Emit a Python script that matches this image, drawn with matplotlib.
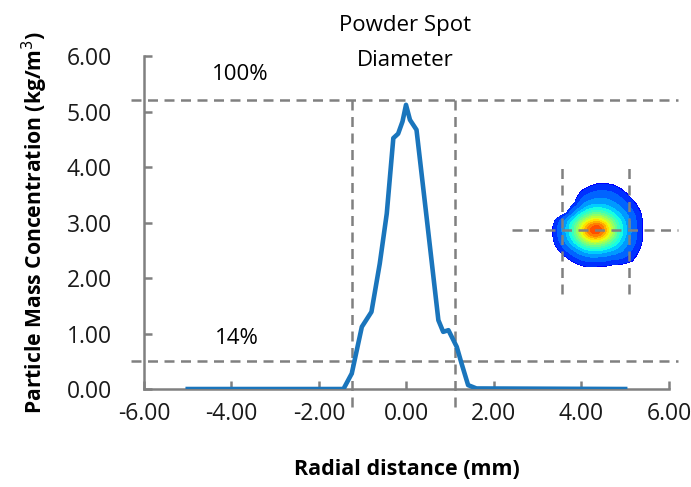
import numpy as np
import matplotlib
matplotlib.use("Agg")
import matplotlib.pyplot as plt

plt.rcParams['font.family'] = ['Open Sans', 'DejaVu Sans']

# concentration profile across the spot
radial_mm = [-5.0, -1.44, -1.25, -1.02, -0.80, -0.61, -0.45, -0.30, -0.19, -0.09,
             -0.01, 0.08, 0.23, 0.46, 0.73, 0.84, 0.96, 1.15, 1.26, 1.41, 1.60, 5.0]
conc = [0.0, 0.0, 0.28, 1.12, 1.39, 2.26, 3.16, 4.52, 4.60, 4.82,
        5.12, 4.85, 4.67, 3.10, 1.24, 1.03, 1.06, 0.76, 0.46, 0.07, 0.01, 0.0]

level_100 = 5.2
level_14 = 0.5
spot_edges = [-1.25, 1.12]

xticks = [-6, -4, -2, 0, 2, 4, 6]
yticks = [0, 1, 2, 3, 4, 5, 6]

# blob outline for the spot picture: relative radius at angles (deg)
blob_angles = [0, 20, 45, 70, 90, 115, 135, 155, 170, 180, 200, 225, 250, 270, 290, 315, 340, 360]
blob_radius = [0.97, 1.0, 0.98, 1.02, 1.0, 0.92, 0.78, 0.80, 1.0, 1.04, 1.06, 0.97, 0.92, 0.86, 0.88, 1.05, 1.02, 0.97]

gray = '#808080'
blue = '#1a75bc'

fig = plt.figure(figsize=(6.91, 4.87), dpi=100)
ax = fig.add_axes([0.2084, 0.2012, 0.968 - 0.2084, 0.885 - 0.2012])

ax.plot(radial_mm, conc, color=blue, lw=3.3, solid_joinstyle='round', zorder=3)

dash = dict(color=gray, lw=1.8, ls=(0, (4, 2.6)), clip_on=False, zorder=2)
for lv in [level_100, level_14]:
    ax.plot([-6.3, 6.2], [lv, lv], **dash)
for e in spot_edges:
    ax.plot([e, e], [-0.32, level_100], **dash)

ax.set_xlim(-6, 6)
ax.set_ylim(0, 6)
ax.set_xticks(xticks)
ax.set_yticks(yticks)
ax.set_xticklabels(['%.2f' % v for v in xticks])
ax.set_yticklabels(['%.2f' % v for v in yticks])
for s in ['top', 'right']:
    ax.spines[s].set_visible(False)
for s in ['left', 'bottom']:
    ax.spines[s].set_color(gray)
    ax.spines[s].set_linewidth(1.8)
ax.tick_params(direction='in', length=6, width=1.8, color=gray, labelsize=16.5, labelcolor='#1a1a1a')
ax.tick_params(axis='y', pad=23)
ax.tick_params(axis='x', pad=9)

ax.set_xlabel('Radial distance (mm)', fontsize=15.5, fontweight='bold', labelpad=24)
ax.set_ylabel('Particle Mass Concentration (kg/m$^3$)', fontsize=15.2, fontweight='bold', labelpad=12)

fs = 16
fig.text(405 / 691, 1 - 25 / 487, 'Powder Spot', ha='center', va='center', fontsize=fs)
fig.text(405 / 691, 1 - 60 / 487, 'Diameter', ha='center', va='center', fontsize=fs)
fig.text(240 / 691, 1 - 75 / 487, '100%', ha='center', va='center', fontsize=fs)
fig.text(237 / 691, 1 - 338 / 487, '14%', ha='center', va='center', fontsize=fs)

# spot picture inset (pixel-like coords, centred on the hot spot)
ins = fig.add_axes([505 / 691, 1 - 300 / 487, 180 / 691, 140 / 487])
ins.set_xlim(-90, 90)
ins.set_ylim(-70, 70)
ins.axis('off')
gx, gy = np.meshgrid(np.linspace(-90, 90, 361), np.linspace(-70, 70, 281))
bx, by = 4, 2  # blob centre relative to hot spot
theta = np.degrees(np.arctan2(gy - by, gx - bx)) % 360
R = 45 * np.interp(theta, blob_angles, blob_radius)
rb = np.hypot(gx - bx, gy - by) / R
rh = np.hypot(gx / 1.3, gy) / 16
field = 0.12 + 0.23 * (1 - np.clip(rb, 0, 1)) ** 0.6 + 0.5 * np.exp(-rh ** 2)
field = np.where(rb <= 1, field, np.nan)
ins.contourf(gx, gy, field, levels=np.linspace(0.1, 0.9, 17), cmap='jet', vmin=0, vmax=1, extend='both')
ins.plot([-83, 83], [0, 0], **dict(dash, clip_on=True))
ins.plot([-33, -33], [-64, 64], **dict(dash, clip_on=True))
ins.plot([34, 34], [-64, 64], **dict(dash, clip_on=True))

fig.savefig('out.png', dpi=100)
